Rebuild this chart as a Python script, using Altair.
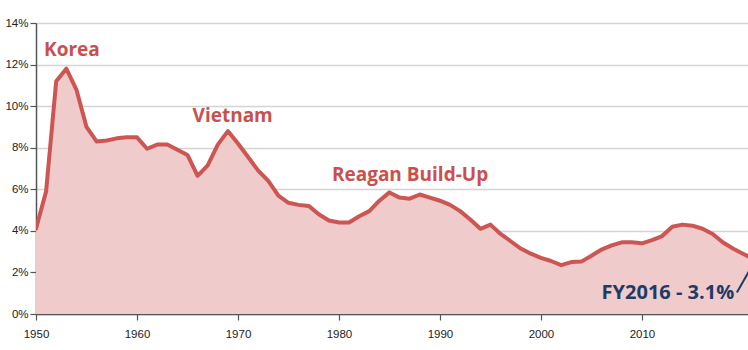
import altair as alt
import pandas as pd

years = list(range(1950, 2022))
pct_gdp = [
    4.1, 5.9, 11.2, 11.8, 10.8, 9.0, 8.3, 8.35, 8.45, 8.5,
    8.5, 7.95, 8.15, 8.15, 7.9, 7.65, 6.65, 7.15, 8.15, 8.8,
    8.2, 7.55, 6.9, 6.4, 5.7, 5.35, 5.25, 5.2, 4.8, 4.5,
    4.4, 4.4, 4.7, 4.95, 5.45, 5.85, 5.6, 5.55, 5.75, 5.6,
    5.45, 5.25, 4.95, 4.55, 4.1, 4.3, 3.85, 3.5, 3.15, 2.9,
    2.7, 2.55, 2.35, 2.5, 2.52, 2.8, 3.1, 3.3, 3.45, 3.45,
    3.4, 3.55, 3.75, 4.2, 4.3, 4.25, 4.1, 3.85, 3.45, 3.15,
    2.9, 2.65,
]

ann_text = ["Korea", "Vietnam", "Reagan Build-Up", "FY2016 - 3.1%"]
ann_x = [1950.8, 1965.5, 1979.3, 2006.0]
ann_y = [12.4, 9.22, 6.42, 0.7]
ann_size = [19, 19, 19, 20]
ann_color = ["#c9504d", "#c9504d", "#c9504d", "#1e3a66"]

arrow_x = [2019.4]
arrow_x2 = [2021.0]
arrow_y = [1.03]
arrow_y2 = [2.4]

df = pd.DataFrame({"year": years, "pct": pct_gdp})
ann = pd.DataFrame({"t": ann_text, "x": ann_x, "y": ann_y, "s": ann_size, "c": ann_color})
arr = pd.DataFrame({"x": arrow_x, "x2": arrow_x2, "y": arrow_y, "y2": arrow_y2})

xs = alt.Scale(domain=[1950, 2020.5], nice=False, zero=False)
ys = alt.Scale(domain=[0, 14], nice=False)

xaxis = alt.Axis(values=list(range(1950, 2020, 10)), format="d", grid=False,
                 title=None, labelFont="Liberation Sans", labelFontSize=11.5,
                 labelColor="#222", domainColor="#555", domainWidth=1.5,
                 tickColor="#555", tickSize=6, tickWidth=1.2, labelPadding=8,
                 labelFlush=False)
yaxis = alt.Axis(values=list(range(0, 15, 2)), labelExpr="datum.value + '%'",
                 title=None, grid=True, gridColor="#d4d4d4", gridWidth=1.5,
                 labelFont="Liberation Sans", labelFontSize=11.5, labelColor="#222",
                 domainColor="#555", domainWidth=1.5, tickColor="#555",
                 tickSize=6, tickWidth=1.2, labelPadding=2, labelFlush=False)

area = alt.Chart(df).mark_area(color="#efcbcb", opacity=1, clip=True).encode(
    x=alt.X("year:Q", scale=xs, axis=xaxis),
    y=alt.Y("pct:Q", scale=ys, axis=yaxis),
)
line = alt.Chart(df).mark_line(color="#cd5653", strokeWidth=4, clip=True,
                               strokeJoin="round", strokeCap="round").encode(
    x=alt.X("year:Q", scale=xs),
    y=alt.Y("pct:Q", scale=ys),
)
text = alt.Chart(ann).mark_text(font="Open Sans", fontWeight="bold",
                                align="left", baseline="alphabetic").encode(
    x=alt.X("x:Q", scale=xs),
    y=alt.Y("y:Q", scale=ys),
    text="t:N",
    size=alt.Size("s:Q", scale=None, legend=None),
    color=alt.Color("c:N", scale=None),
)
arrow = alt.Chart(arr).mark_rule(color="#1e3a66", strokeWidth=2, clip=True).encode(
    x=alt.X("x:Q", scale=xs), x2="x2:Q",
    y=alt.Y("y:Q", scale=ys), y2="y2:Q",
)

chart = alt.layer(area, line, arrow, text).properties(
    width=712, height=291,
    padding={"left": 36, "top": 23, "right": 0, "bottom": 36},
    autosize=alt.AutoSizeParams(type="none"),
).configure_view(stroke=None).configure(background="white")

chart.save("out.html", embed_options={"renderer": "svg", "actions": False})
